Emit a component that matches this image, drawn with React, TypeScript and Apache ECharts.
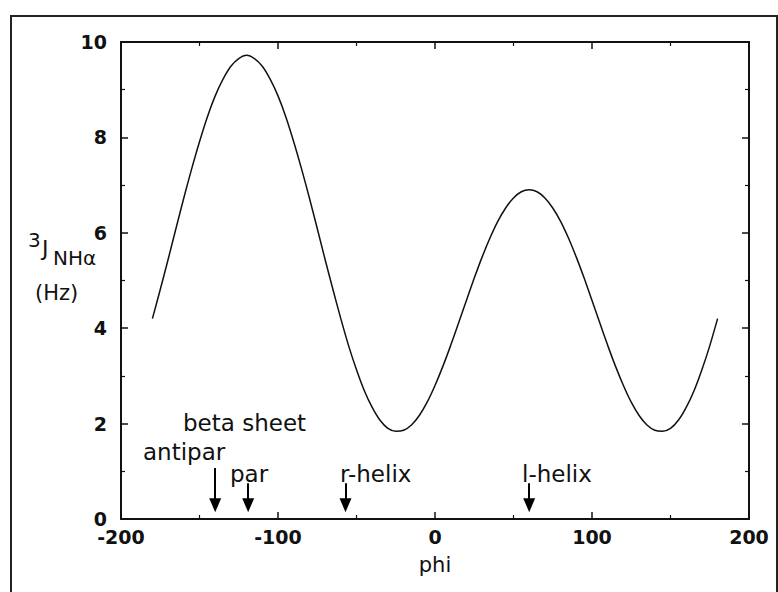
import React, { useEffect, useRef } from "react";
import * as echarts from "echarts";

// Karplus curve: phi (deg) vs 3J_NHa (Hz)
const phiValues = [
  -180, -175, -170, -165, -160, -155, -150, -145, -140, -135, -130, -125, -120, -115, -110, -105,
  -100, -95, -90, -85, -80, -75, -70, -65, -60, -55, -50, -45, -40, -35, -30, -25, -20, -15, -10, -5,
  0, 5, 10, 15, 20, 25, 30, 35, 40, 45, 50, 55, 60, 65, 70, 75, 80, 85, 90, 95, 100, 105, 110, 115,
  120, 125, 130, 135, 140, 145, 150, 155, 160, 165, 170, 175, 180,
];
const jValues = [
  4.2, 4.81, 5.44, 6.09, 6.73, 7.34, 7.91, 8.43, 8.87, 9.22, 9.49, 9.65, 9.72, 9.65, 9.49, 9.22,
  8.87, 8.43, 7.91, 7.34, 6.73, 6.09, 5.44, 4.81, 4.2, 3.63, 3.13, 2.69, 2.34, 2.07, 1.9, 1.84, 1.86, 1.97, 2.17, 2.45,
  2.8, 3.2, 3.64, 4.11, 4.58, 5.05, 5.49, 5.89, 6.24, 6.52, 6.73, 6.86, 6.9, 6.86, 6.73, 6.52, 6.24, 5.89, 5.49, 5.05, 4.58, 4.11, 3.64, 3.2,
  2.8, 2.45, 2.17, 1.97, 1.86, 1.84, 1.9, 2.07, 2.34, 2.69, 3.13, 3.63, 4.2,
];

// Secondary-structure markers
const markerNames = ["antipar", "par", "r-helix", "l-helix"];
const markerPhi = [-140, -119, -57, 60];
const markerTopJ = [1.07, 0.75, 0.75, 0.75];
const markerTipJ = 0.29;

const xTicks = { min: -200, max: 200, interval: 100 };
const yTicks = { min: 0, max: 10, interval: 2 };

const FONT = "DejaVu Sans";

export default function App() {
  const ref = useRef<HTMLDivElement>(null);

  useEffect(() => {
    if (!ref.current) return;
    const chart = echarts.init(ref.current, undefined, { renderer: "svg" });

    const data = phiValues.map((p, i) => [p, jValues[i]]);
    const arrows = markerPhi.map((p, i) => [
      { coord: [p, markerTopJ[i]] },
      { coord: [p, markerTipJ] },
    ]);

    const axisCommon = {
      axisLine: { show: true, onZero: false, lineStyle: { color: "#111", width: 2 } },
      axisTick: { show: true, inside: true, length: 7, lineStyle: { color: "#111", width: 1.5 } },
      minorTick: { show: true, splitNumber: 2, length: 4, lineStyle: { color: "#111", width: 1.2 } },
      splitLine: { show: false },
      minorSplitLine: { show: false },
    };
    const labelStyle = {
      fontFamily: FONT,
      fontWeight: "bold" as const,
      fontSize: 19,
      color: "#111",
    };

    chart.setOption({
      animation: false,
      backgroundColor: "#fff",
      grid: { left: 121, right: 29, top: 42, bottom: 73, containLabel: false },
      xAxis: [
        {
          type: "value",
          position: "bottom",
          ...xTicks,
          ...axisCommon,
          axisLabel: { ...labelStyle, margin: 8 },
          name: "phi",
          nameLocation: "middle",
          nameGap: 35,
          nameTextStyle: { fontFamily: FONT, fontSize: 21, color: "#111" },
        },
        {
          type: "value",
          position: "top",
          ...xTicks,
          ...axisCommon,
          axisLabel: { show: false },
        },
      ],
      yAxis: [
        {
          type: "value",
          position: "left",
          ...yTicks,
          ...axisCommon,
          axisLabel: { ...labelStyle, margin: 14 },
        },
        {
          type: "value",
          position: "right",
          ...yTicks,
          ...axisCommon,
          axisLabel: { show: false },
        },
      ],
      series: [
        {
          type: "line",
          xAxisIndex: 0,
          yAxisIndex: 0,
          data,
          smooth: 0.25,
          showSymbol: false,
          silent: true,
          lineStyle: { color: "#111", width: 1.5 },
          markLine: {
            silent: true,
            symbol: ["none", "triangle"],
            symbolSize: [12, 14],
            label: { show: false },
            lineStyle: { color: "#000", width: 2, type: "solid" },
            data: arrows,
          },
        },
      ],
      graphic: [
        {
          type: "rect",
          shape: { x: 11, y: 16, width: 766, height: 700 },
          style: { fill: "none", stroke: "#222", lineWidth: 2 },
          silent: true,
        },
        // y-axis title: 3J_NHα (Hz)
        { type: "text", style: { x: 28, y: 240, text: "3", font: `20px "${FONT}"`, fill: "#111", verticalAlign: "middle" } },
        { type: "text", style: { x: 42, y: 248, text: "J", font: `22px "${FONT}"`, fill: "#111", verticalAlign: "middle" } },
        { type: "text", style: { x: 53, y: 258, text: "NHα", font: `20px "${FONT}"`, fill: "#111", verticalAlign: "middle" } },
        { type: "text", style: { x: 35, y: 293, text: "(Hz)", font: `21px "${FONT}"`, fill: "#111", verticalAlign: "middle" } },
        // annotations
        { type: "text", style: { x: 183, y: 423, text: "beta sheet", font: `23px "${FONT}"`, fill: "#111", verticalAlign: "middle" } },
        { type: "text", style: { x: 143, y: 452, text: markerNames[0], font: `23px "${FONT}"`, fill: "#111", verticalAlign: "middle" } },
        { type: "text", style: { x: 230, y: 474, text: markerNames[1], font: `23px "${FONT}"`, fill: "#111", verticalAlign: "middle" } },
        { type: "text", style: { x: 340, y: 474, text: markerNames[2], font: `23px "${FONT}"`, fill: "#111", verticalAlign: "middle" } },
        { type: "text", style: { x: 522, y: 474, text: markerNames[3], font: `23px "${FONT}"`, fill: "#111", verticalAlign: "middle" } },
      ],
    });

    return () => chart.dispose();
  }, []);

  return (
    <div
      ref={ref}
      style={{ position: "absolute", left: 0, top: 0, width: 778, height: 592 }}
    />
  );
}
